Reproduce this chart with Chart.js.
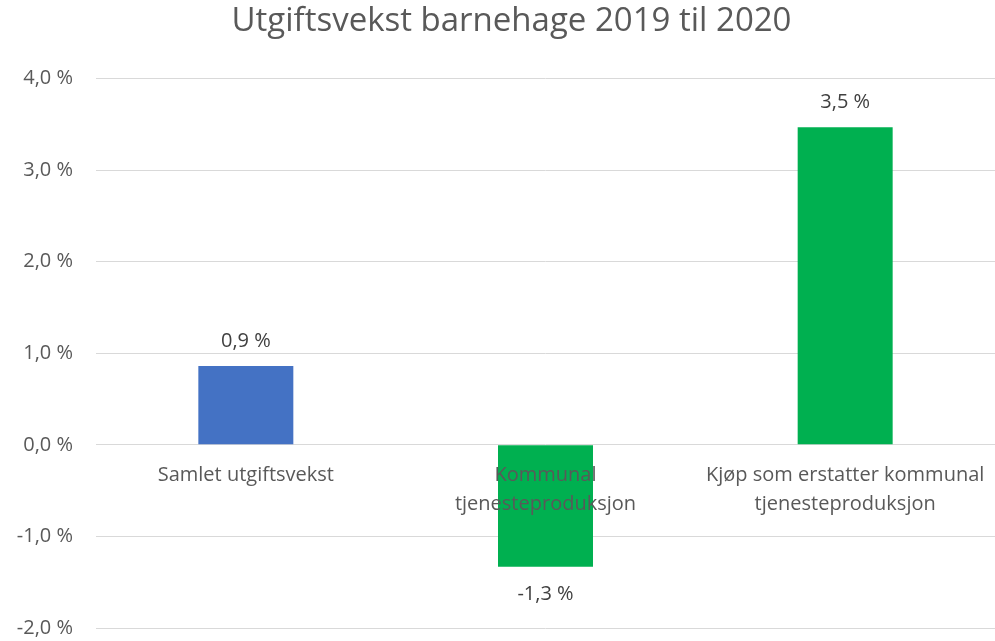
<!DOCTYPE html>
<html>
<head>
<meta charset="utf-8">
<script src="https://cdn.jsdelivr.net/npm/chart.js@4/dist/chart.umd.min.js"></script>
<style>
  html, body { margin: 0; padding: 0; background: #fff; }
  #wrap { width: 995px; height: 641px; position: relative; }
</style>
</head>
<body>
<div id="wrap"><canvas id="c"></canvas></div>
<script>
const titleText = "Utgiftsvekst barnehage 2019 til 2020";
const categories = [
  "Samlet utgiftsvekst",
  ["Kommunal", "tjenesteproduksjon"],
  ["Kjøp som erstatter kommunal", "tjenesteproduksjon"]
];
const values = [0.86, -1.33, 3.47];
const barColors = ["#4472C4", "#00B050", "#00B050"];
const yTicks = { min: -2, max: 4, step: 1 };

const FONT = "'Open Sans', 'Noto Sans', sans-serif";
const TEXT = "#595959";

function fmt(v) { return v.toFixed(1).replace('.', ',') + ' %'; }

const dataLabels = {
  id: 'dataLabels',
  afterLayout(chart) {
    // Excel centres the title slightly right of the canvas centre
    if (chart.titleBlock) { chart.titleBlock.left += 28; }
  },
  afterDraw(chart) {
    const ctx = chart.ctx;
    const meta = chart.getDatasetMeta(0);
    ctx.save();
    ctx.font = "20px " + FONT;
    ctx.fillStyle = "#404040";
    ctx.textAlign = "center";
    ctx.textBaseline = "middle";
    meta.data.forEach((el, i) => {
      const v = values[i];
      const y = v >= 0 ? el.y - 25 : el.y + 28;
      ctx.fillText(fmt(v), el.x, y);
    });
    ctx.restore();
  }
};

new Chart(document.getElementById('c'), {
  type: 'bar',
  data: {
    labels: categories,
    datasets: [{
      data: values,
      backgroundColor: barColors,
      borderWidth: 0,
      categoryPercentage: 1,
      barPercentage: 0.317
    }]
  },
  plugins: [dataLabels],
  options: {
    responsive: true,
    maintainAspectRatio: false,
    animation: false,
    layout: { padding: { left: 0, right: 0, top: 0, bottom: 13 } },
    plugins: {
      legend: { display: false },
      tooltip: { enabled: false },
      title: {
        display: true,
        text: titleText,
        color: TEXT,
        font: { family: FONT, size: 33, weight: 'normal', lineHeight: 1.2 },
        padding: { top: 2, bottom: 37 }
      }
    },
    scales: {
      x: {
        position: { y: 0 },
        afterFit(scale) { scale.height = 0; },
        grid: {
          display: true,
          drawOnChartArea: false,
          drawTicks: true,
          tickLength: 16,
          color: 'transparent',
          tickColor: 'transparent'
        },
        border: { display: false },
        ticks: {
          z: 1,
          color: TEXT,
          font: { family: FONT, size: 20, lineHeight: 1.45 },
          padding: 0,
          maxRotation: 0,
          autoSkip: false
        }
      },
      y: {
        min: yTicks.min,
        max: yTicks.max,
        afterFit(scale) { scale.width = 96; },
        grid: {
          color: "#D9D9D9",
          lineWidth: 1,
          drawTicks: true,
          tickLength: 23,
          tickColor: 'transparent'
        },
        border: { display: false },
        ticks: {
          stepSize: yTicks.step,
          color: TEXT,
          font: { family: FONT, size: 20 },
          padding: 0,
          callback: (v) => fmt(v)
        }
      }
    }
  }
});
</script>
</body>
</html>
